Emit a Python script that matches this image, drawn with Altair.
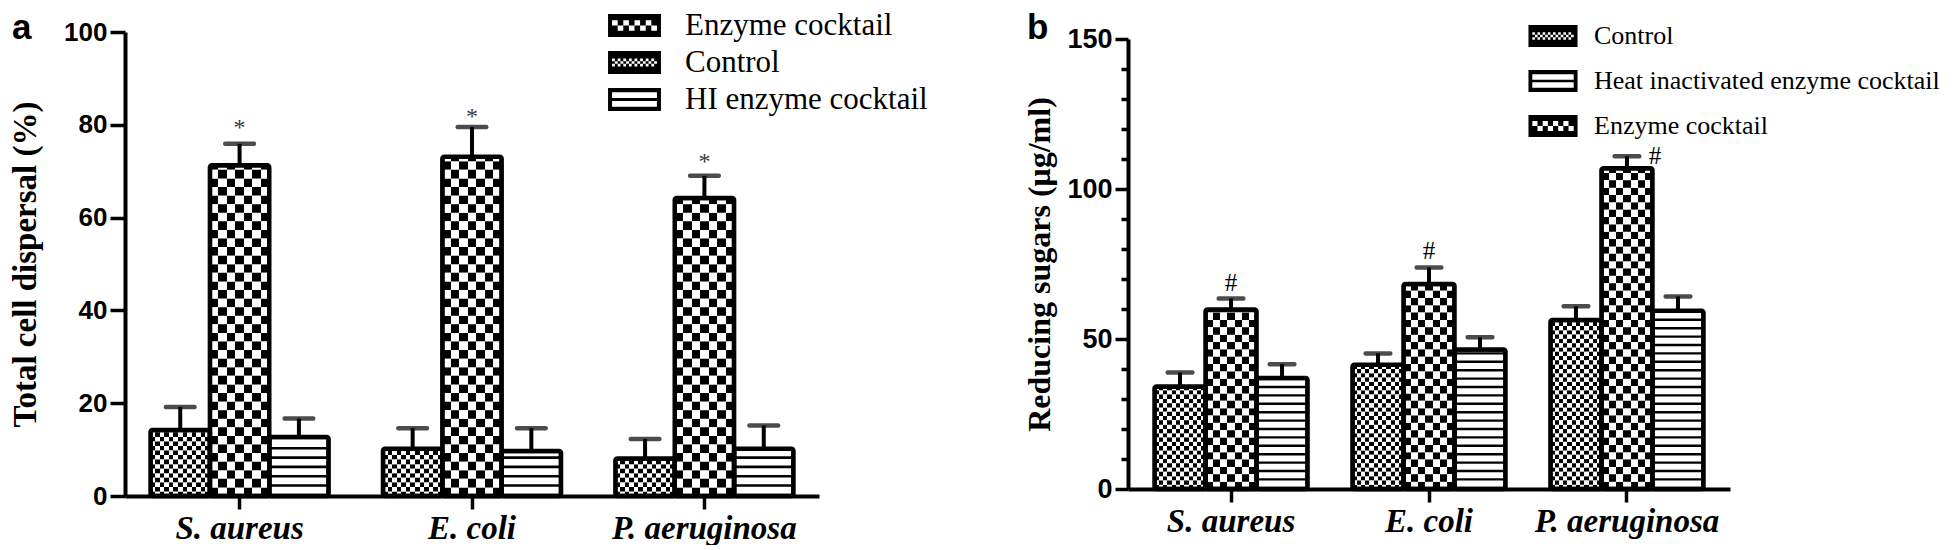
import altair as alt
import pandas as pd

# ---------------- data ----------------
cats = ["S. aureus", "E. coli", "P. aeruginosa"]

# panel a : total cell dispersal (%)
groups_a = ["Control", "Enzyme cocktail", "HI enzyme cocktail"]
legend_a = ["Enzyme cocktail", "Control", "HI enzyme cocktail"]
ctrl_a = [14.2, 10.2, 8.1]
ctrl_a_sd = [5.0, 4.4, 4.2]
enz_a = [71.3, 73.1, 64.2]
enz_a_sd = [4.6, 6.4, 4.8]
hi_a = [12.7, 9.7, 10.2]
hi_a_sd = [4.0, 4.9, 5.0]
mark_a = ["*", "*", "*"]
mark_a_pos = [80.3, 82.8, 73.0]

# panel b : reducing sugars (ug/ml)
groups_b = ["Control", "Enzyme cocktail", "Heat inactivated enzyme cocktail"]
legend_b = ["Control", "Heat inactivated enzyme cocktail", "Enzyme cocktail"]
ctrl_b = [34.2, 41.4, 56.3]
ctrl_b_sd = [4.6, 3.8, 4.6]
enz_b = [59.8, 68.3, 106.9]
enz_b_sd = [3.7, 5.5, 4.0]
hi_b = [37.0, 46.5, 59.4]
hi_b_sd = [4.6, 4.1, 4.8]
mark_b = ["#", "#", "#"]
mark_b_pos = [70.3, 81.1, 112.8]

BLACK = "#000000"
WHITE = "#ffffff"
SERIF = "Liberation Serif"
SANS = "Liberation Sans"


def col_gradient(n, first):
    other = WHITE if first == BLACK else BLACK
    stops = []
    for i in range(n):
        c = first if i % 2 == 0 else other
        stops.append({"offset": i / n, "color": c})
        stops.append({"offset": (i + 1) / n, "color": c})
    return {"gradient": "linear", "x1": 0, "x2": 1, "y1": 0, "y2": 0, "stops": stops}


def checker_rows(values, group, cell):
    recs = []
    for c, v in zip(cats, values):
        k = 0
        while k * cell < v - 1e-9:
            recs.append({"cat": c, "group": group, "y0": k * cell,
                         "y1": min((k + 1) * cell, v), "row": k % 2})
            k += 1
    return pd.DataFrame(recs)


def stripe_rows(values, group, period, thick):
    recs = []
    for c, v in zip(cats, values):
        k = 1
        while k * period + thick < v - 0.3:
            recs.append({"cat": c, "group": group, "y0": k * period, "y1": k * period + thick})
            k += 1
    return pd.DataFrame(recs)


def rect(x0, y0, x1, y1):
    return f"M{x0:.3f},{y0:.3f}H{x1:.3f}V{y1:.3f}H{x0:.3f}Z"


def sw_checker(W, ncols, nrows, iy):
    ix = W - 0.35
    parts = [rect(-W, -1, W, -iy), rect(-W, iy, W, 1), rect(-W, -iy, -ix, iy), rect(ix, -iy, W, iy)]
    cw = 2 * ix / ncols
    ch = 2 * iy / nrows
    for r in range(nrows):
        for c in range(ncols):
            if (r + c) % 2 == 1:
                parts.append(rect(-ix + c * cw, -iy + r * ch, -ix + (c + 1) * cw, -iy + (r + 1) * ch))
    return "".join(parts)


def sw_stripes(W):
    t = 0.35
    return "".join([rect(-W, -1, W, -0.62), rect(-W, -0.12, W, 0.12), rect(-W, 0.62, W, 1),
                    rect(-W, -1, -W + t, 1), rect(W - t, -1, W, 1)])


def build_panel(P):
    groups = P["groups"]
    ctrl_g, enz_g, hi_g = groups
    vals = {ctrl_g: P["ctrl"], enz_g: P["enz"], hi_g: P["hi"]}
    sds = {ctrl_g: P["ctrl_sd"], enz_g: P["enz_sd"], hi_g: P["hi_sd"]}
    main = pd.DataFrame([
        {"cat": c, "group": g, "value": vals[g][i], "err": vals[g][i] + sds[g][i]}
        for g in groups for i, c in enumerate(cats)
    ])
    marks = pd.DataFrame({"cat": cats, "group": [enz_g] * 3,
                          "pos": P["mark_pos"], "label": P["marks"]})

    xsc = alt.Scale(domain=cats, paddingInner=P["pin"], paddingOuter=P["pout"])
    xax = alt.Axis(labelAngle=0, labelFont=SERIF, labelFontStyle="italic", labelFontWeight="bold",
                   labelFontSize=33, labelColor=BLACK, labelPadding=3, labelLimit=0, tickSize=13,
                   tickWidth=3.5, tickColor=BLACK, domainColor=BLACK, domainWidth=4, title=None,
                   grid=False)
    ysc = alt.Scale(domain=[0, P["ymax"]], nice=False, zero=True)
    yax = alt.Axis(values=P["yvalues"], labelExpr=P["labelExpr"], tickSize=P["tickSize"],
                   tickWidth=3.5, tickColor=BLACK, domainColor=BLACK, domainWidth=4,
                   labelFont=SANS, labelFontWeight="bold", labelFontSize=P["tickFont"],
                   labelColor=BLACK, labelPadding=3, grid=False, title=P["ytitle"],
                   titleFont=SERIF, titleFontWeight="bold", titleFontSize=P["titleFont"],
                   titleColor=BLACK, titleX=P["titleX"], titleBaseline="middle")
    xoff = alt.XOffset("group:N", scale=alt.Scale(domain=groups, paddingInner=0, paddingOuter=0))

    def X():
        return alt.X("cat:N", scale=xsc, axis=xax, title=None)

    def Yrow():
        return alt.Y("y0:Q", scale=ysc, axis=yax)

    def Yval(f):
        return alt.Y(f + ":Q", scale=ysc, axis=yax)

    layers = []
    # checker patterns (control fine, enzyme coarse)
    for g, cell, ncols in [(ctrl_g, P["ctrl_cell"], P["ctrl_cols"]), (enz_g, P["enz_cell"], P["enz_cols"])]:
        rows = checker_rows(vals[g], g, cell)
        for parity, first in [(0, BLACK), (1, WHITE)]:
            sub = rows[rows["row"] == parity]
            layers.append(alt.Chart(sub).mark_bar(color=col_gradient(ncols, first), strokeWidth=0).encode(
                x=X(), xOffset=xoff, y=Yrow(), y2="y1:Q"))
    # horizontal stripes
    st = stripe_rows(vals[hi_g], hi_g, P["hi_period"], P["hi_thick"])
    layers.append(alt.Chart(st).mark_bar(color=BLACK, strokeWidth=0).encode(
        x=X(), xOffset=xoff, y=Yrow(), y2="y1:Q"))
    # outlines
    layers.append(alt.Chart(main).mark_bar(fill=WHITE, fillOpacity=0, stroke=BLACK, strokeWidth=4.5,
                                           cornerRadius=2).encode(
        x=X(), xOffset=xoff, y=Yval("value")))
    # error bars
    layers.append(alt.Chart(main).mark_rule(color=BLACK, strokeWidth=4).encode(
        x=X(), xOffset=xoff, y=Yval("value"), y2="err:Q"))
    layers.append(alt.Chart(main).mark_tick(color=BLACK, thickness=4.5, size=P["cap"], cornerRadius=2).encode(
        x=X(), xOffset=xoff, y=Yval("err")))
    # significance marks
    m_main = marks.iloc[:2] if P["last_dx"] else marks
    layers.append(alt.Chart(m_main).mark_text(font=SERIF, fontSize=P["markFont"], color=P["markColor"],
                                              baseline="middle", dy=P["markDy"]).encode(
        x=X(), xOffset=xoff, y=Yval("pos"), text="label:N"))
    if P["last_dx"]:
        layers.append(alt.Chart(marks.iloc[2:]).mark_text(font=SERIF, fontSize=P["markFont"],
                                                          color=P["markColor"], baseline="middle",
                                                          dy=P["markDy"], dx=P["last_dx"]).encode(
            x=X(), xOffset=xoff, y=Yval("pos"), text="label:N"))
    # legend carrier (invisible points)
    W = P["W"]
    shape_for = {ctrl_g: sw_checker(W, 16, 3, 0.35), enz_g: sw_checker(W, 8, 2, 0.45), hi_g: sw_stripes(W)}
    leg = alt.Legend(title=None, orient="none", legendX=P["legX"], legendY=P["legY"],
                     labelFont=SERIF, labelFontSize=P["legFont"], labelColor=BLACK,
                     labelOffset=P["labelOffset"], rowPadding=P["rowPadding"],
                     symbolSize=P["symSize"], symbolFillColor=BLACK, symbolStrokeWidth=0,
                     symbolOpacity=1, labelLimit=800, padding=0, labelBaseline="middle")
    layers.append(alt.Chart(main).mark_point(filled=True, opacity=0, color=BLACK, size=P["symSize"]).encode(
        x=X(), xOffset=xoff, y=Yval("value"),
        shape=alt.Shape("group:N", scale=alt.Scale(domain=P["legend"],
                                                   range=[shape_for[g] for g in P["legend"]]),
                        legend=leg)))

    return alt.layer(*layers).properties(
        width=P["width"], height=P["height"],
        title=alt.TitleParams(P["letter"], anchor="start", frame="group", orient="top",
                              font=SANS, fontSize=35, fontWeight="bold", color=BLACK,
                              dx=P["letterDx"], dy=P["letterDy"], offset=0, baseline="alphabetic"))


PA = dict(groups=groups_a, legend=legend_a, ctrl=ctrl_a, ctrl_sd=ctrl_a_sd, enz=enz_a, enz_sd=enz_a_sd,
          hi=hi_a, hi_sd=hi_a_sd, marks=mark_a, mark_pos=mark_a_pos, last_dx=0,
          markFont=24, markColor="#3a3a3a", markDy=5,
          width=694, height=464, ymax=100, yvalues=[0, 20, 40, 60, 80, 100],
          labelExpr="datum.label", tickSize=15, tickFont=26, pin=0.234, pout=0.11,
          ytitle="Total cell dispersal (%)", titleFont=33, titleX=-100,
          ctrl_cell=0.98, ctrl_cols=13, enz_cell=1.85, enz_cols=7, hi_period=2.0, hi_thick=0.55,
          cap=33, W=2.3, symSize=529, legX=494, legY=-22, legFont=31, labelOffset=35, rowPadding=5,
          letter="a", letterDx=-113, letterDy=64)

PB = dict(groups=groups_b, legend=legend_b, ctrl=ctrl_b, ctrl_sd=ctrl_b_sd, enz=enz_b, enz_sd=enz_b_sd,
          hi=hi_b, hi_sd=hi_b_sd, marks=mark_b, mark_pos=mark_b_pos, last_dx=28,
          markFont=25, markColor=BLACK, markDy=5,
          width=602, height=450, ymax=150, yvalues=list(range(0, 151, 10)),
          labelExpr="datum.value % 50 === 0 ? datum.label : ''",
          tickSize={"condition": {"test": "datum.value % 50 === 0", "value": 13}, "value": 7},
          tickFont=27, pin=0.227, pout=0.134,
          ytitle="Reducing sugars (μg/ml)", titleFont=32, titleX=-89,
          ctrl_cell=1.43, ctrl_cols=12, enz_cell=2.45, enz_cols=7, hi_period=2.8, hi_thick=0.8,
          cap=29, W=2.23, symSize=484, legX=412, legY=-16, legFont=26, labelOffset=28, rowPadding=19,
          letter="b", letterDx=-101, letterDy=51)

chart = alt.hconcat(build_panel(PA), build_panel(PB), spacing=309, bounds="flush", center=True).resolve_scale(
    x="independent", y="independent", xOffset="independent", shape="independent"
).resolve_legend(shape="independent").properties(
    padding={"left": 0, "top": 2, "right": 0, "bottom": 0}, background="white"
).configure_view(stroke=None)

chart.save("out.html", embed_options={"renderer": "svg", "actions": False})
